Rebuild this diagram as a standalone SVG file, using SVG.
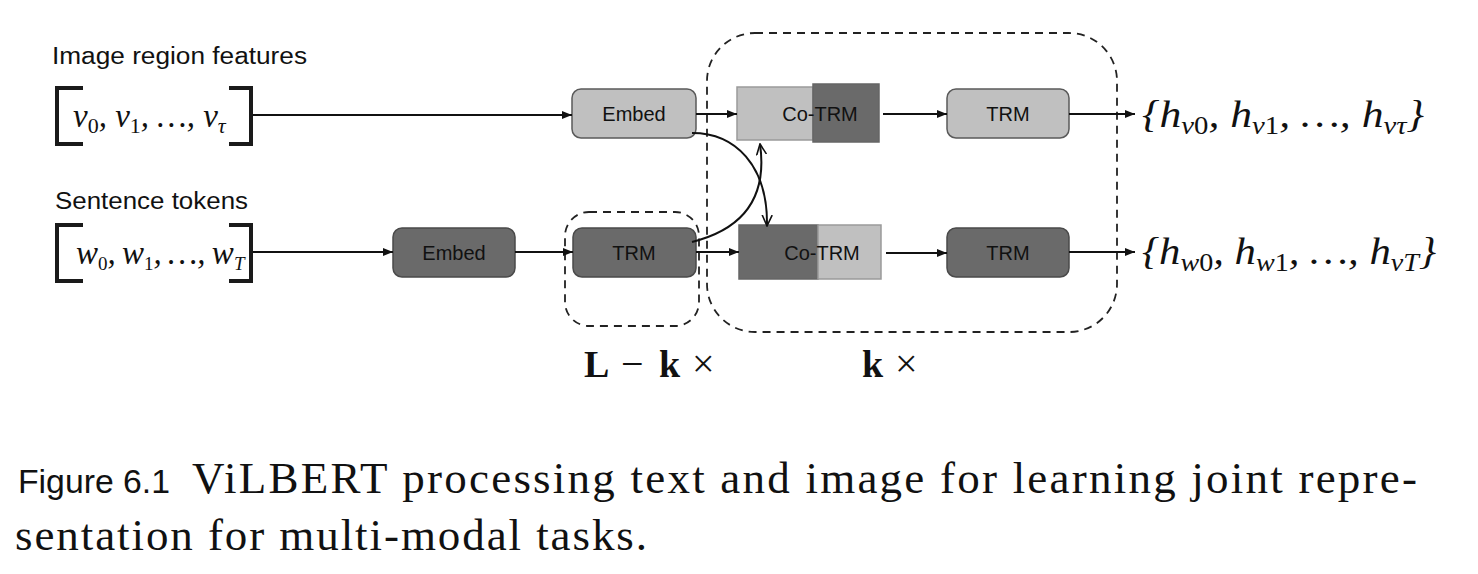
<svg xmlns="http://www.w3.org/2000/svg" width="1478" height="574" viewBox="0 0 1478 574">
<style>
.lbl{font-family:"Liberation Sans",Arial,sans-serif;font-size:23px;fill:#111}
.node{font-family:"Liberation Sans",Arial,sans-serif;font-size:20px;fill:#111;text-anchor:middle}
.light{fill:#c0c0c0;stroke:#5a5a5a;stroke-width:1.5}
.dark{fill:#6a6a6a;stroke:#4a4a4a;stroke-width:1.5}
.lightb{fill:#c0c0c0;stroke:#9a9a9a;stroke-width:1.5}
.darkb{fill:#6a6a6a;stroke:#666;stroke-width:1.5}
.math{font-family:"Liberation Serif","Times New Roman",serif;font-style:italic;font-size:33px;fill:#111}
.omath{font-family:"Liberation Serif","Times New Roman",serif;font-style:italic;font-size:38px;fill:#111}
.up{font-style:normal}
.brk{fill:none;stroke:#1a1a1a;stroke-width:4}
.conn{fill:none;stroke:#111;stroke-width:2}
.dash{fill:none;stroke:#222;stroke-width:1.8;stroke-dasharray:8 6}
.bold{font-family:"Liberation Serif","Times New Roman",serif;font-weight:bold;font-size:38px;fill:#111}
.times{font-family:"Liberation Serif","Times New Roman",serif;font-size:40px;fill:#111}
.cap{font-family:"Liberation Serif","Times New Roman",serif;font-size:45px;fill:#111}
.capsans{font-family:"Liberation Sans",Arial,sans-serif;font-size:34px;fill:#111}
</style>
<defs>
<marker id="arr" viewBox="0 0 10 10" refX="10" refY="5" markerWidth="10" markerHeight="10" markerUnits="userSpaceOnUse" orient="auto">
<path d="M0,1 L10,5 L0,9 Z" fill="#111"/>
</marker>
<marker id="open" viewBox="0 0 12 12" refX="11" refY="6" markerWidth="12" markerHeight="12" markerUnits="userSpaceOnUse" orient="auto">
<path d="M0,1 L11,6 L0,11" fill="none" stroke="#111" stroke-width="1.6"/>
</marker>
</defs>

<g id="groups">
<rect id="group-lk" class="dash" x="565" y="212" width="134" height="114" rx="24"/>
<rect id="group-k" class="dash" x="707" y="33" width="410" height="299" rx="48"/>
</g>

<g id="input-image">
<text class="lbl" x="52" y="64" textLength="255" lengthAdjust="spacingAndGlyphs">Image region features</text>
<path class="brk" d="M83,88 L57,88 L57,144 L83,144"/>
<path class="brk" d="M229,88 L251,88 L251,144 L229,144"/>
<text class="math" x="73" y="127">v<tspan class="up" font-size="22" dy="6">0</tspan><tspan dy="-6">, v</tspan><tspan class="up" font-size="22" dy="6">1</tspan><tspan dy="-6">, …, v</tspan><tspan font-size="22" dy="6">τ</tspan></text>
</g>

<g id="input-text">
<text class="lbl" x="55" y="209" textLength="193" lengthAdjust="spacingAndGlyphs">Sentence tokens</text>
<path class="brk" d="M83,225 L57,225 L57,281 L83,281"/>
<path class="brk" d="M229,225 L251,225 L251,281 L229,281"/>
<text class="math" x="76" y="264" font-size="28" word-spacing="-2">w<tspan class="up" font-size="19" dy="6">0</tspan><tspan dy="-6">, w</tspan><tspan class="up" font-size="19" dy="6">1</tspan><tspan dy="-6">, …, w</tspan><tspan font-size="19" dy="6">T</tspan></text>
</g>

<g id="embed-img">
<rect class="light" x="572" y="89" width="124" height="49" rx="9"/>
<text class="node" x="634" y="121">Embed</text>
</g>
<g id="cotrm-img">
<rect class="lightb" x="737" y="87" width="76" height="53"/>
<rect class="darkb" x="813" y="84" width="66" height="58"/>
<text class="node" x="820" y="121">Co-TRM</text>
</g>
<g id="trm-img">
<rect class="light" x="947" y="89" width="122" height="49" rx="9"/>
<text class="node" x="1008" y="121">TRM</text>
</g>

<g id="embed-txt">
<rect class="dark" x="393" y="228" width="122" height="49" rx="9"/>
<text class="node" x="454" y="260">Embed</text>
</g>
<g id="trm-txt-1">
<rect class="dark" x="573" y="228" width="123" height="49" rx="9"/>
<text class="node" x="634" y="260">TRM</text>
</g>
<g id="cotrm-txt">
<rect class="darkb" x="739" y="225" width="79" height="54"/>
<rect class="lightb" x="818" y="225" width="63" height="54"/>
<text class="node" x="822" y="260">Co-TRM</text>
</g>
<g id="trm-txt-2">
<rect class="dark" x="947" y="228" width="122" height="49" rx="9"/>
<text class="node" x="1008" y="260">TRM</text>
</g>

<g id="connectors">
<line class="conn" x1="253" y1="115" x2="572" y2="115" marker-end="url(#arr)"/>
<line class="conn" x1="696" y1="114" x2="737" y2="114" marker-end="url(#arr)"/>
<line class="conn" x1="883" y1="114" x2="947" y2="114" marker-end="url(#arr)"/>
<line class="conn" x1="1069" y1="114" x2="1135" y2="114" marker-end="url(#arr)"/>
<line class="conn" x1="253" y1="252" x2="393" y2="252" marker-end="url(#arr)"/>
<line class="conn" x1="515" y1="252" x2="573" y2="252" marker-end="url(#arr)"/>
<line class="conn" x1="696" y1="252" x2="739" y2="252" marker-end="url(#arr)"/>
<line class="conn" x1="886" y1="253" x2="947" y2="253" marker-end="url(#arr)"/>
<line class="conn" x1="1069" y1="252" x2="1135" y2="252" marker-end="url(#arr)"/>
<path class="conn" d="M692,133 C735,133 768,165 767,226" marker-end="url(#open)"/>
<path class="conn" d="M692,242 C740,230 768,200 760,144" marker-end="url(#open)"/>
</g>

<g id="outputs">
<text class="omath" x="1142" y="127" textLength="282" lengthAdjust="spacingAndGlyphs">{h<tspan font-size="25" dy="7">v</tspan><tspan class="up" font-size="25">0</tspan><tspan dy="-7">, h</tspan><tspan font-size="25" dy="7">v</tspan><tspan class="up" font-size="25">1</tspan><tspan dy="-7">, …, h</tspan><tspan font-size="25" dy="7">vτ</tspan><tspan dy="-7">}</tspan></text>
<text class="omath" x="1142" y="264" textLength="294" lengthAdjust="spacingAndGlyphs">{h<tspan font-size="25" dy="7">w</tspan><tspan class="up" font-size="25">0</tspan><tspan dy="-7">, h</tspan><tspan font-size="25" dy="7">w</tspan><tspan class="up" font-size="25">1</tspan><tspan dy="-7">, …, h</tspan><tspan font-size="25" dy="7">vT</tspan><tspan dy="-7">}</tspan></text>
</g>

<g id="multipliers">
<text class="bold" x="584" y="377">L</text>
<text class="times" x="621" y="377">−</text>
<text class="bold" x="659" y="377">k</text>
<text class="times" x="692" y="377">×</text>
<text class="bold" x="862" y="377">k</text>
<text class="times" x="895" y="377">×</text>
</g>

<g id="caption">
<text class="capsans" x="18" y="493" textLength="152" lengthAdjust="spacingAndGlyphs">Figure 6.1</text>
<text class="cap" x="192" y="493" textLength="1225" lengthAdjust="spacing">ViLBERT processing text and image for learning joint repre-</text>
<text class="cap" x="15" y="550" textLength="632" lengthAdjust="spacing">sentation for multi-modal tasks.</text>
</g>
</svg>
